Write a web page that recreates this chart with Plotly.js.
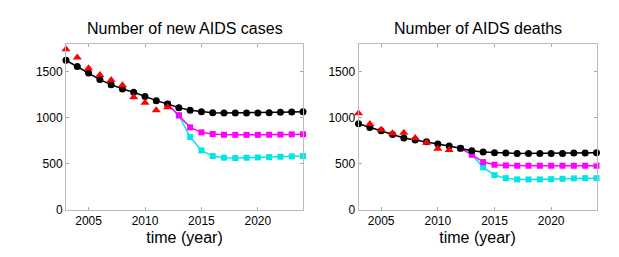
<!DOCTYPE html>
<html>
<head>
<meta charset="utf-8">
<script src="https://cdn.plot.ly/plotly-3.0.1.min.js"></script>
<style>html,body{margin:0;padding:0;background:#fff;}#chart{width:619px;height:257px;}</style>
</head>
<body>
<div id="chart"></div>
<script>
// Years
const yearsModel = [2003,2004,2005,2006,2007,2008,2009,2010,2011,2012,2013,2014,2015,2016,2017,2018,2019,2020,2021,2022,2023,2024];
const yearsScen = [2012,2013,2014,2015,2016,2017,2018,2019,2020,2021,2022,2023,2024];
const yearsCasesData = [2003,2004,2005,2006,2007,2008,2009,2010,2011,2012];
const yearsDeathsData = [2003,2004,2005,2006,2007,2008,2009,2010,2011];

// New AIDS cases
const casesBaseline = [1623,1554,1485,1413,1358,1311,1275,1228,1184,1148,1108,1079,1064,1053,1050,1050,1050,1050,1053,1057,1060,1064];
const casesMagenta = [1148,1024,893,839,821,813,812,812,812,813,815,817,818];
const casesCyan = [1148,1024,788,643,581,563,559,563,566,570,574,577,581];
const casesObserved = [1743,1652,1536,1464,1409,1351,1220,1162,1079,1111];

// AIDS deaths
const deathsBaseline = [933,893,857,817,777,755,737,712,690,665,639,625,617,614,610,610,610,610,610,614,614,617];
const deathsMagenta = [665,596,516,487,479,476,476,476,476,476,476,476,476];
const deathsCyan = [665,596,458,374,341,327,327,327,330,334,338,341,341];
const deathsObserved = [1046,930,868,828,835,777,726,661,646];

const titles = ["Number of new AIDS cases", "Number of AIDS deaths"];
const xTicks = [2005,2010,2015,2020];
const yTicks = [0,500,1000,1500];
const xTitle = "time (year)";

function panel(xa, ya, base, mag, cyan, obs, obsYears) {
  return [
    {x: yearsScen, y: cyan, xaxis: xa, yaxis: ya, type: 'scatter', mode: 'lines+markers',
     line: {color: '#00e5e5', width: 1.5}, marker: {symbol: 'square', size: 6, color: '#00e5e5'}, cliponaxis: false},
    {x: yearsScen, y: mag, xaxis: xa, yaxis: ya, type: 'scatter', mode: 'lines+markers',
     line: {color: '#ff00ff', width: 1.5}, marker: {symbol: 'square', size: 6, color: '#ff00ff'}, cliponaxis: false},
    {x: yearsModel, y: base, xaxis: xa, yaxis: ya, type: 'scatter', mode: 'lines+markers',
     line: {color: '#000000', width: 1.5}, marker: {symbol: 'circle', size: 7, color: '#000000'}, cliponaxis: false},
    {x: obsYears, y: obs, xaxis: xa, yaxis: ya, type: 'scatter', mode: 'markers',
     marker: {symbol: 'triangle-up', size: 8, color: '#ff0000'}, cliponaxis: false}
  ];
}

const data = [].concat(
  panel('x', 'y', casesBaseline, casesMagenta, casesCyan, casesObserved, yearsCasesData),
  panel('x2', 'y2', deathsBaseline, deathsMagenta, deathsCyan, deathsObserved, yearsDeathsData)
);

const font = {family: 'Liberation Sans, Arial, sans-serif', color: '#000'};
function xaxis(domain, anchor) {
  return {domain: domain, anchor: anchor, range: [2003, 2024], tickvals: xTicks,
    ticks: 'inside', ticklen: 3, tickcolor: '#aaa', showline: true, linecolor: '#bbb', linewidth: 1,
    mirror: 'ticks', showgrid: false, zeroline: false, tickfont: {family: font.family, size: 12, color: '#000'},
    title: {text: xTitle, font: {family: font.family, size: 16, color: '#000'}, standoff: 4}};
}
function yaxis(domain, anchor) {
  return {domain: domain, anchor: anchor, range: [0, 1800], tickvals: yTicks,
    ticks: 'inside', ticklen: 3, tickcolor: '#aaa', showline: true, linecolor: '#bbb', linewidth: 1,
    mirror: 'ticks', showgrid: false, zeroline: false, tickfont: {family: font.family, size: 12, color: '#000'}};
}
const yDom = [1 - 209.5/257, 1 - 44/257];
const layout = {
  width: 619, height: 257,
  margin: {l: 0, r: 0, t: 0, b: 0},
  paper_bgcolor: '#fff', plot_bgcolor: '#fff',
  showlegend: false,
  font: font,
  xaxis: xaxis([66/619, 303/619], 'y'),
  yaxis: yaxis(yDom, 'x'),
  xaxis2: xaxis([358.5/619, 596.5/619], 'y2'),
  yaxis2: yaxis(yDom, 'x2'),
  annotations: [
    {text: titles[0], x: (66+303)/2/619, y: 1 - 28/257, xref: 'paper', yref: 'paper', showarrow: false,
     xanchor: 'center', yanchor: 'middle', font: {family: font.family, size: 16, color: '#000'}},
    {text: titles[1], x: (358.5+596.5)/2/619, y: 1 - 28/257, xref: 'paper', yref: 'paper', showarrow: false,
     xanchor: 'center', yanchor: 'middle', font: {family: font.family, size: 16, color: '#000'}}
  ]
};
Plotly.newPlot('chart', data, layout, {staticPlot: true, displayModeBar: false});
</script>
</body>
</html>
